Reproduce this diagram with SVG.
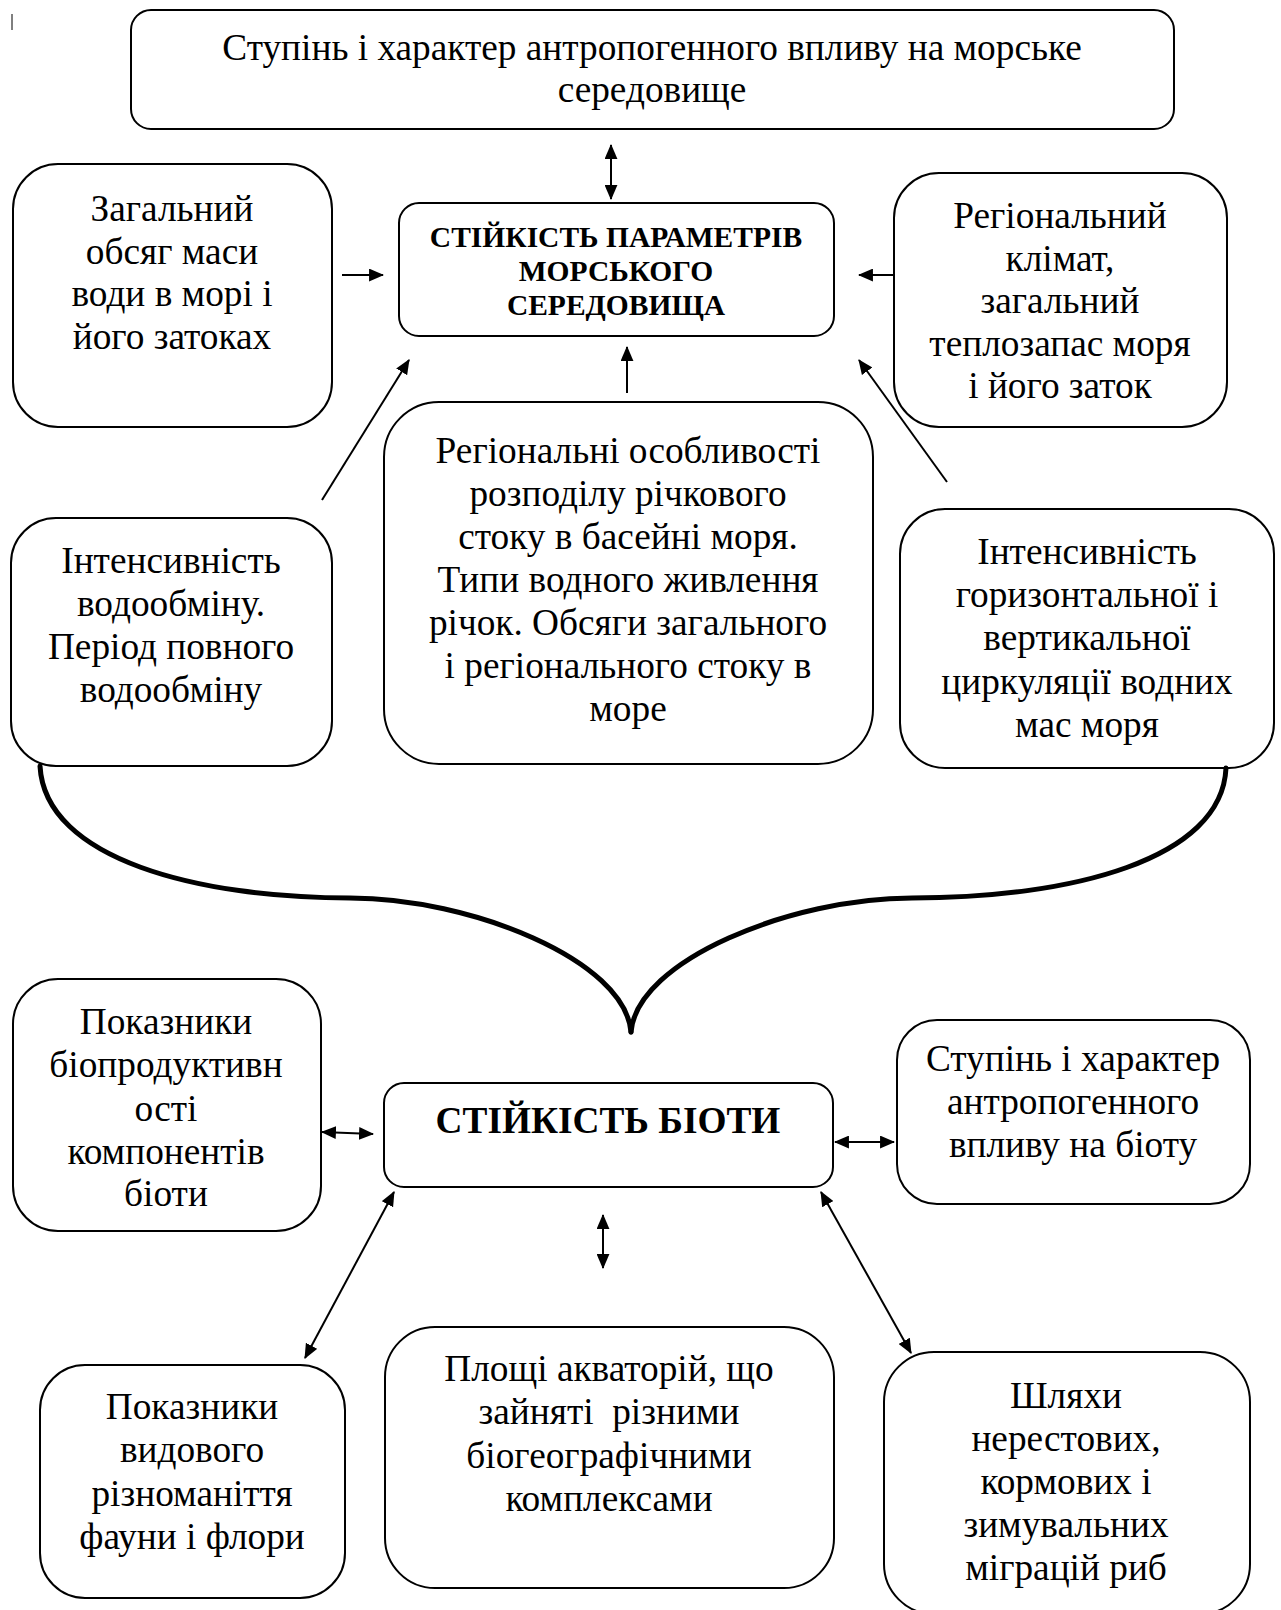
<svg xmlns="http://www.w3.org/2000/svg" width="1281" height="1610" viewBox="0 0 1281 1610">
<defs>
<style>
.box{fill:#fff;stroke:#000;stroke-width:2}
.t{font-family:"Liberation Serif","Times New Roman",serif;font-size:37.3px;text-anchor:middle;fill:#000}
.b{font-family:"Liberation Serif","Times New Roman",serif;font-weight:bold;text-anchor:middle;fill:#000}
.c{stroke:#000;stroke-width:2;fill:none}
.brace{stroke:#000;stroke-width:5;fill:none;stroke-linecap:round}
</style>
<marker id="ah" viewBox="0 0 14 12" refX="13" refY="6" markerWidth="15" markerHeight="13" orient="auto-start-reverse" markerUnits="userSpaceOnUse">
<path d="M0,0 L14,6 L0,12 z" fill="#000"/>
</marker>
</defs>
<rect width="1281" height="1610" fill="#fff"/>
<line x1="12" y1="14" x2="12" y2="30" stroke="#000" stroke-width="1"/>

<g id="top">
<rect class="box" x="131" y="10" width="1043" height="119" rx="20"/>
<text class="t" x="652" y="60">Ступінь і характер антропогенного впливу на морське</text>
<text class="t" x="652" y="102">середовище</text>
</g>

<g id="center">
<rect class="box" x="399" y="203" width="435" height="133" rx="20"/>
<text class="b" font-size="29.5" x="616" y="247">СТІЙКІСТЬ ПАРАМЕТРІВ</text>
<text class="b" font-size="29.5" x="616" y="281">МОРСЬКОГО</text>
<text class="b" font-size="29.5" x="616" y="315">СЕРЕДОВИЩА</text>
</g>

<g id="volume">
<rect class="box" x="13" y="164" width="319" height="263" rx="45"/>
<text class="t" x="172" y="221">Загальний</text>
<text class="t" x="172" y="264">обсяг маси</text>
<text class="t" x="172" y="306">води в морі і</text>
<text class="t" x="172" y="349">його затоках</text>
</g>

<g id="climate">
<rect class="box" x="894" y="173" width="333" height="254" rx="45"/>
<text class="t" x="1060" y="228">Регіональний</text>
<text class="t" x="1060" y="271">клімат,</text>
<text class="t" x="1060" y="313">загальний</text>
<text class="t" x="1060" y="356">теплозапас моря</text>
<text class="t" x="1060" y="398">і його заток</text>
</g>

<g id="runoff">
<rect class="box" x="384" y="402" width="489" height="362" rx="55"/>
<text class="t" x="628" y="463">Регіональні особливості</text>
<text class="t" x="628" y="506">розподілу річкового</text>
<text class="t" x="628" y="549">стоку в басейні моря.</text>
<text class="t" x="628" y="592">Типи водного живлення</text>
<text class="t" x="628" y="635">річок. Обсяги загального</text>
<text class="t" x="628" y="678">і регіонального стоку в</text>
<text class="t" x="628" y="721">море</text>
</g>

<g id="exchange">
<rect class="box" x="11" y="518" width="321" height="248" rx="45"/>
<text class="t" x="171" y="573">Інтенсивність</text>
<text class="t" x="171" y="616">водообміну.</text>
<text class="t" x="171" y="659">Період повного</text>
<text class="t" x="171" y="702">водообміну</text>
</g>

<g id="circulation">
<rect class="box" x="900" y="509" width="374" height="259" rx="45"/>
<text class="t" x="1087" y="564">Інтенсивність</text>
<text class="t" x="1087" y="607">горизонтальної і</text>
<text class="t" x="1087" y="650">вертикальної</text>
<text class="t" x="1087" y="694">циркуляції водних</text>
<text class="t" x="1087" y="737">мас моря</text>
</g>

<g id="bioproductivity">
<rect class="box" x="13" y="979" width="308" height="252" rx="45"/>
<text class="t" x="166" y="1034">Показники</text>
<text class="t" x="166" y="1077">біопродуктивн</text>
<text class="t" x="166" y="1121">ості</text>
<text class="t" x="166" y="1164">компонентів</text>
<text class="t" x="166" y="1206">біоти</text>
</g>

<g id="biota">
<rect class="box" x="384" y="1083" width="449" height="104" rx="20"/>
<text class="b" font-size="37.3" x="608" y="1133">СТІЙКІСТЬ БІОТИ</text>
</g>

<g id="anthropo-biota">
<rect class="box" x="897" y="1020" width="353" height="184" rx="40"/>
<text class="t" x="1073" y="1071">Ступінь і характер</text>
<text class="t" x="1073" y="1114">антропогенного</text>
<text class="t" x="1073" y="1157">впливу на біоту</text>
</g>

<g id="diversity">
<rect class="box" x="40" y="1365" width="305" height="233" rx="45"/>
<text class="t" x="192" y="1419">Показники</text>
<text class="t" x="192" y="1462">видового</text>
<text class="t" x="192" y="1506">різноманіття</text>
<text class="t" x="192" y="1549">фауни і флори</text>
</g>

<g id="areas">
<rect class="box" x="385" y="1327" width="449" height="261" rx="50"/>
<text class="t" x="609" y="1381">Площі акваторій, що</text>
<text class="t" x="609" y="1424">зайняті&#160; різними</text>
<text class="t" x="609" y="1468">біогеографічними</text>
<text class="t" x="609" y="1511">комплексами</text>
</g>

<g id="migration">
<rect class="box" x="884" y="1352" width="366" height="262" rx="50"/>
<text class="t" x="1066" y="1408">Шляхи</text>
<text class="t" x="1066" y="1451">нерестових,</text>
<text class="t" x="1066" y="1494">кормових і</text>
<text class="t" x="1066" y="1537">зимувальних</text>
<text class="t" x="1066" y="1580">міграцій риб</text>
</g>

<g id="connectors">
<line class="c" x1="611" y1="145" x2="611" y2="199" marker-start="url(#ah)" marker-end="url(#ah)"/>
<line class="c" x1="342" y1="275" x2="383" y2="275" marker-end="url(#ah)"/>
<line class="c" x1="895" y1="275" x2="859" y2="275" marker-end="url(#ah)"/>
<line class="c" x1="627" y1="393" x2="627" y2="347" marker-end="url(#ah)"/>
<line class="c" x1="322" y1="500" x2="409" y2="360" marker-end="url(#ah)"/>
<line class="c" x1="947" y1="482" x2="859" y2="360" marker-end="url(#ah)"/>
<path class="brace" d="M40 766 C45 860 200 898 350 898 C470 898 625 960 631 1032"/>
<path class="brace" d="M1226 768 C1222 860 1070 898 912 898 C792 898 637 960 631 1032"/>
<line class="c" x1="322" y1="1132" x2="373" y2="1134" marker-start="url(#ah)" marker-end="url(#ah)"/>
<line class="c" x1="835" y1="1142" x2="894" y2="1142" marker-start="url(#ah)" marker-end="url(#ah)"/>
<line class="c" x1="603" y1="1215" x2="603" y2="1268" marker-start="url(#ah)" marker-end="url(#ah)"/>
<line class="c" x1="394" y1="1192" x2="305" y2="1358" marker-start="url(#ah)" marker-end="url(#ah)"/>
<line class="c" x1="821" y1="1192" x2="911" y2="1353" marker-start="url(#ah)" marker-end="url(#ah)"/>
</g>
</svg>
